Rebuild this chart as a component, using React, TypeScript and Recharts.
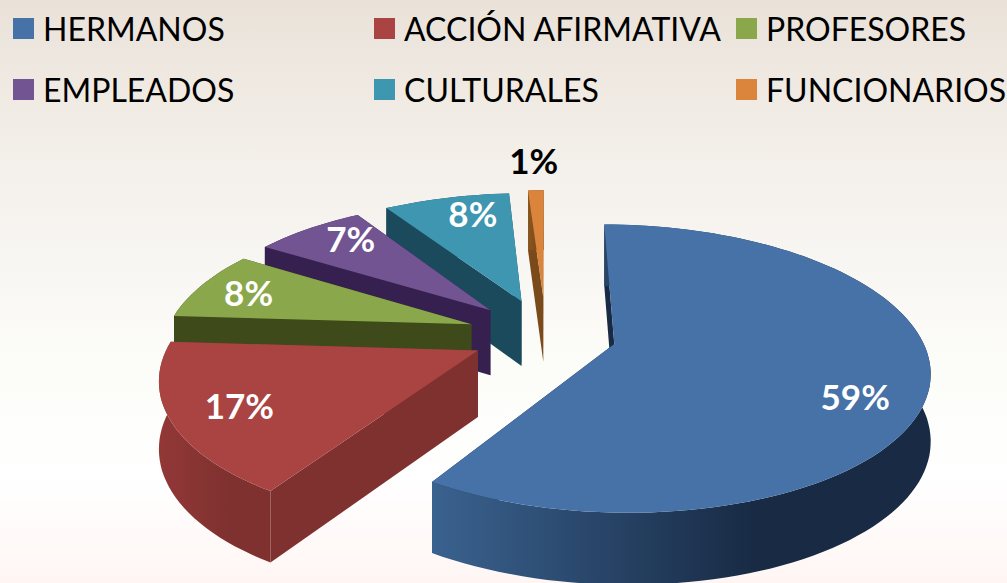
import { PieChart, Pie, Legend } from 'recharts'

const categories = ['HERMANOS', 'ACCIÓN AFIRMATIVA', 'PROFESORES', 'EMPLEADOS', 'CULTURALES', 'FUNCIONARIOS']
const shares = [59, 17, 8, 7, 8, 1]
const topColors = ['#4672A8', '#A94442', '#8AA84B', '#715491', '#3E96B0', '#DA843C']
const wallLight = ['#3A628F', '#923837', '#3E4A1A', '#35204F', '#1A4A5C', '#8A5520']
const wallDark = ['#182A44', '#7E312F', '#3E4A1A', '#35204F', '#1A4A5C', '#7A4A1A']
const explode = [0.23, 0.245, 0.26, 0.265, 0.27, 0.29]
const labelReach = [0.8, 0.79, 0.82, 0.82, 0.82, 1.35]
const labelTurn = [-10, 0, 0, -4, -4, 0]
const labelColors = ['#fff', '#fff', '#fff', '#fff', '#fff', '#000']

// pie is drawn counter-clockwise from the top so the back slices get painted first
const rows = categories
  .map((name, i) => ({ name, value: shares[i], idx: i }))
  .reverse()

const TILT = 0.447
const PERSP = 0.17
const DEPTH = 66
const DEPTH_PERSP = 0.08
const RAD = Math.PI / 180
const FONT = 'Lato, Carlito, sans-serif'

function project(cx: number, cy: number, r: number, x: number, z: number, drop = 0) {
  const s = 1 / (1 + PERSP * z)
  return [cx + r * x * s, cy - r * TILT * z * s + (DEPTH * drop) / (1 + DEPTH_PERSP * z)]
}

function toPath(pts: number[][]) {
  return pts.map((p, i) => `${i ? 'L' : 'M'}${p[0].toFixed(1)},${p[1].toFixed(1)}`).join(' ') + ' Z'
}

function Slice3D(props: any) {
  const { cx, cy, outerRadius, startAngle, endAngle, payload } = props
  const i = payload.idx
  const mid = (startAngle + endAngle) / 2
  const ox = explode[i] * Math.cos(mid * RAD)
  const oz = explode[i] * Math.sin(mid * RAD)
  const arcAngles: number[] = []
  const steps = Math.max(2, Math.ceil((endAngle - startAngle) / 2))
  for (let k = 0; k <= steps; k++) arcAngles.push(startAngle + ((endAngle - startAngle) * k) / steps)

  const at = (a: number, drop: number) =>
    project(cx, cy, outerRadius, ox + Math.cos(a * RAD), oz + Math.sin(a * RAD), drop)
  const apex = project(cx, cy, outerRadius, ox, oz)
  const apexLow = project(cx, cy, outerRadius, ox, oz, 1)
  const topArc = arcAngles.map((a) => at(a, 0))
  const lowArc = arcAngles.map((a) => at(a, 1))
  const gradId = `wall-${i}`

  return (
    <g>
      <defs>
        <linearGradient id={gradId} x1="0" y1="0" x2="1" y2="0">
          <stop offset="0%" stopColor={wallLight[i]} />
          <stop offset="65%" stopColor={wallDark[i]} />
          <stop offset="100%" stopColor={wallDark[i]} />
        </linearGradient>
      </defs>
      <path d={toPath([apex, topArc[0], lowArc[0], apexLow])} fill={wallDark[i]} />
      <path d={toPath([apex, topArc[steps], lowArc[steps], apexLow])} fill={wallDark[i]} />
      <path d={toPath([...topArc, ...[...lowArc].reverse()])} fill={`url(#${gradId})`} />
      <path d={toPath([apex, ...topArc])} fill={topColors[i]} />
    </g>
  )
}

function sliceLabel(props: any) {
  const { cx, cy, outerRadius, midAngle, payload } = props
  const i = payload.idx
  const ox = explode[i] * Math.cos(midAngle * RAD)
  const oz = explode[i] * Math.sin(midAngle * RAD)
  const k = labelReach[i]
  const a = (midAngle + labelTurn[i]) * RAD
  const p = project(cx, cy, outerRadius, ox + k * Math.cos(a), oz + k * Math.sin(a))
  return (
    <text
      key={i}
      x={p[0]}
      y={p[1]}
      fill={labelColors[i]}
      textAnchor="middle"
      dominantBaseline="central"
      fontFamily={FONT}
      fontWeight={700}
      fontSize={35}
    >
      {shares[i]}%
    </text>
  )
}

// zero height so the legend doesn't take room away from the pie
function LegendGrid() {
  const cols = [13, 374, 736]
  return (
    <div style={{ position: 'relative', width: 1007, height: 0 }}>
      {categories.map((name, i) => (
        <div
          key={name}
          style={{
            position: 'absolute',
            left: cols[i % 3],
            top: i < 3 ? 8 : 69,
            display: 'flex',
            alignItems: 'center',
            height: 40,
            whiteSpace: 'nowrap',
            fontFamily: FONT,
            fontSize: 32,
            color: '#000',
          }}
        >
          <span style={{ width: 21, height: 21, background: topColors[i], marginRight: 9 }} />
          {name}
        </div>
      ))}
    </div>
  )
}

export default function App() {
  return (
    <div
      style={{
        position: 'absolute',
        left: 0,
        top: 0,
        width: 1007,
        height: 583,
        overflow: 'hidden',
        background:
          'linear-gradient(180deg, #EAE2D9 0%, #F1ECE5 20%, #F6F3EF 36%, #FCFCF8 62%, #FFFFFF 82%, #FFF6F4 100%)',
      }}
    >
      <PieChart width={1007} height={583} margin={{ top: 0, right: 0, bottom: 0, left: 0 }}>
        <Legend
          content={<LegendGrid />}
          verticalAlign="top"
          wrapperStyle={{ left: 0, top: 0, width: 1007, height: 0 }}
        />
        <Pie
          data={rows}
          dataKey="value"
          nameKey="name"
          cx={546}
          cy={335}
          innerRadius={0}
          outerRadius={306}
          startAngle={90}
          endAngle={450}
          stroke="none"
          shape={Slice3D}
          label={sliceLabel}
          labelLine={false}
          isAnimationActive={false}
        />
      </PieChart>
    </div>
  )
}
